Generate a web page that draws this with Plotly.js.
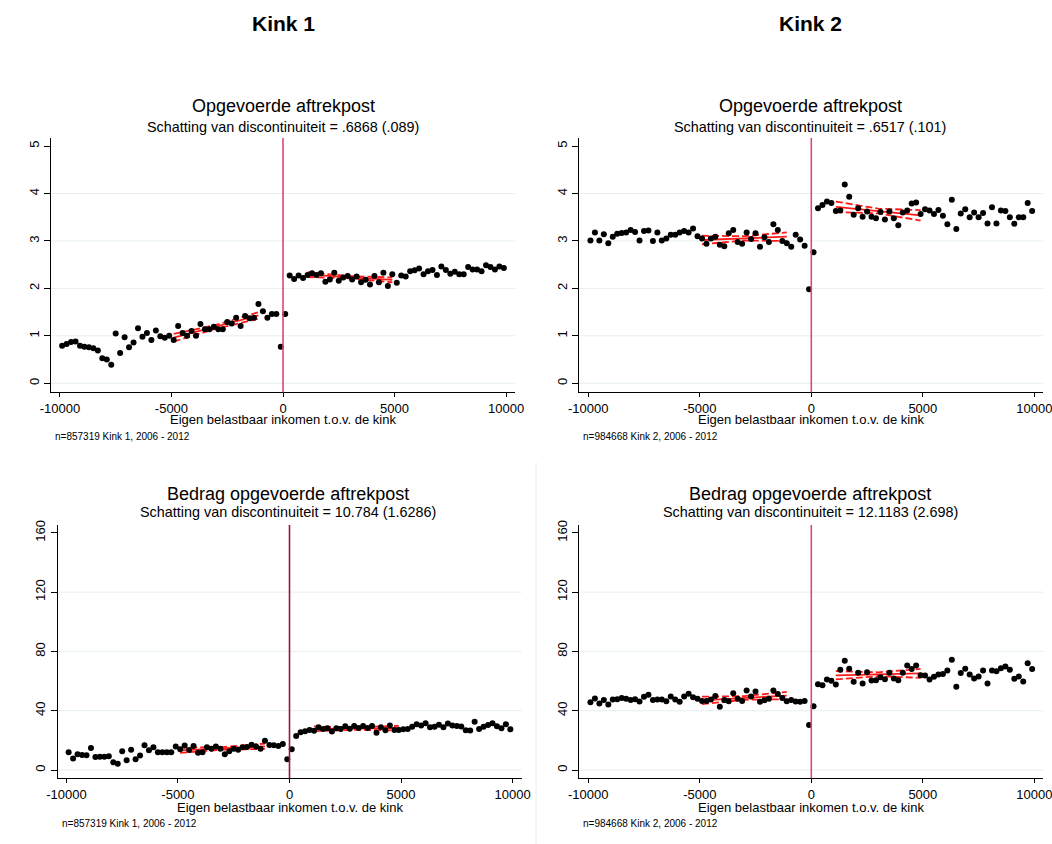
<!DOCTYPE html>
<html>
<head>
<meta charset="utf-8">
<script src="https://cdn.plot.ly/plotly-3.0.1.min.js"></script>
<style>html,body{margin:0;padding:0;background:#fff;}#chart{width:1052px;height:844px;}</style>
</head>
<body>
<div id="chart"></div>
<script>
// ---------- DATA ----------
const binX = [-9900,-9700,-9500,-9300,-9100,-8900,-8700,-8500,-8300,-8100,
  -7900,-7700,-7500,-7300,-7100,-6900,-6700,-6500,-6300,-6100,
  -5900,-5700,-5500,-5300,-5100,-4900,-4700,-4500,-4300,-4100,
  -3900,-3700,-3500,-3300,-3100,-2900,-2700,-2500,-2300,-2100,
  -1900,-1700,-1500,-1300,-1100,-900,-700,-500,-300,-100,
  100,300,500,700,900,1100,1300,1500,1700,1900,
  2100,2300,2500,2700,2900,3100,3300,3500,3700,3900,
  4100,4300,4500,4700,4900,5100,5300,5500,5700,5900,
  6100,6300,6500,6700,6900,7100,7300,7500,7700,7900,
  8100,8300,8500,8700,8900,9100,9300,9500,9700,9900];

// Kink 1: share with deduction
const k1Share = [0.79,0.83,0.87,0.88,0.79,0.77,0.76,0.74,0.69,0.53,
  0.50,0.39,1.05,0.64,0.97,0.76,0.86,1.16,0.98,1.06,
  0.91,1.11,0.99,0.96,1.00,0.91,1.21,1.06,1.00,1.10,
  1.00,1.25,1.14,1.14,1.19,1.14,1.14,1.29,1.26,1.38,
  1.21,1.42,1.37,1.38,1.67,1.52,1.38,1.46,1.46,0.77,
  1.46,2.27,2.20,2.27,2.22,2.28,2.32,2.28,2.32,2.14,
  2.19,2.33,2.16,2.23,2.26,2.19,2.25,2.13,2.18,2.08,
  2.26,2.13,2.33,2.05,2.30,2.12,2.27,2.25,2.36,2.38,
  2.42,2.30,2.36,2.39,2.28,2.46,2.39,2.31,2.35,2.30,
  2.30,2.45,2.40,2.40,2.36,2.49,2.45,2.40,2.46,2.43];

// Kink 2: share with deduction
const k2Share = [3.01,3.18,3.01,3.14,2.95,3.09,3.15,3.17,3.18,3.23,
  3.19,3.01,3.21,3.22,3.00,3.18,3.01,3.05,3.13,3.13,
  3.18,3.21,3.18,3.26,3.10,3.05,2.94,3.05,3.09,2.92,
  2.89,3.16,3.23,2.98,2.94,3.18,3.04,3.16,2.88,3.08,
  2.98,3.35,3.23,3.00,2.95,2.88,3.13,3.03,2.90,1.98,
  2.76,3.69,3.76,3.83,3.80,3.63,3.64,4.19,3.93,3.55,
  3.69,3.51,3.62,3.51,3.48,3.61,3.45,3.62,3.48,3.33,
  3.60,3.64,3.79,3.81,3.57,3.67,3.64,3.57,3.65,3.53,
  3.35,3.87,3.25,3.58,3.67,3.50,3.60,3.50,3.59,3.37,
  3.71,3.37,3.64,3.63,3.50,3.36,3.50,3.50,3.80,3.63];

// Kink 1: amount
const k1Amount = [11.9,7.7,10.6,10.1,9.9,14.9,8.8,9.0,9.0,9.2,
  5.2,4.3,12.6,6.5,13.7,7.2,9.7,16.7,13.3,15.3,
  11.9,11.9,11.9,11.9,15.8,14.0,16.5,13.5,16.2,11.7,
  11.9,15.3,14.4,15.8,14.4,10.6,12.6,14.4,13.7,15.3,
  15.5,17.1,15.8,14.4,19.8,16.9,16.7,16.2,17.6,7.2,
  14.0,23.0,25.5,26.1,27.0,26.4,28.8,27.7,28.2,25.9,
  28.2,27.7,29.5,27.9,29.7,28.4,29.7,28.4,29.7,25.2,
  28.8,26.8,30.0,27.0,27.0,27.5,27.7,29.1,30.9,30.0,
  31.5,28.8,29.1,30.6,28.8,31.3,30.0,29.7,29.3,26.8,
  26.6,32.5,27.7,29.1,30.4,31.5,29.5,28.2,30.9,27.5];

// Kink 2: amount
const k2Amount = [45.7,48.2,44.8,47.3,44.2,47.5,47.8,48.5,48.0,47.3,
  47.8,46.2,49.4,50.7,47.3,47.5,47.5,46.4,49.6,47.5,
  46.0,49.6,51.4,49.1,48.0,46.6,46.6,47.5,50.0,42.6,
  47.3,46.4,51.8,48.0,46.6,53.6,49.6,53.0,46.0,47.1,
  48.0,53.6,51.2,48.5,46.4,47.3,46.2,46.0,46.6,30.4,
  43.0,57.9,57.2,61.1,60.2,57.7,67.6,73.7,68.3,59.5,
  65.6,58.4,66.0,60.4,60.6,62.6,61.3,65.6,61.7,60.6,
  65.6,70.5,68.1,70.5,64.0,63.8,61.1,62.9,64.5,64.7,
  67.2,74.4,56.1,65.4,68.3,64.5,61.7,63.1,67.2,58.4,
  67.2,66.7,68.7,69.9,67.6,61.5,63.1,59.7,72.1,68.1];

// local linear fits with confidence bands
const fitLeftX  = [-4900, -3000, -1100];
const fitRightX = [1100, 3000, 4900];

const k1ShareFitL = [0.96, 1.19, 1.43], k1ShareLoL = [0.88, 1.15, 1.36], k1ShareHiL = [1.04, 1.23, 1.50];
const k1ShareFitR = [2.29, 2.235, 2.18], k1ShareLoR = [2.24, 2.21, 2.13], k1ShareHiR = [2.34, 2.26, 2.23];
const k2ShareFitL = [3.02, 3.055, 3.09], k2ShareLoL = [2.93, 3.01, 3.00], k2ShareHiL = [3.11, 3.10, 3.18];
const k2ShareFitR = [3.72, 3.63, 3.54], k2ShareLoR = [3.61, 3.58, 3.43], k2ShareHiR = [3.83, 3.68, 3.65];
const k1AmtFitL = [13.3, 14.6, 16.0], k1AmtLoL = [11.5, 13.7, 14.2], k1AmtHiL = [15.1, 15.5, 17.8];
const k1AmtFitR = [27.8, 28.0, 28.2], k1AmtLoR = [26.2, 27.2, 26.6], k1AmtHiR = [29.4, 28.8, 29.8];
const k2AmtFitL = [47.0, 48.6, 50.2], k2AmtLoL = [44.5, 47.4, 47.7], k2AmtHiL = [49.5, 49.8, 52.7];
const k2AmtFitR = [63.9, 64.6, 65.2], k2AmtLoR = [61.1, 63.3, 62.2], k2AmtHiR = [66.7, 65.9, 68.2];

const xTickVals = [-10000, -5000, 0, 5000, 10000];
const xTickText = ['-10000', '-5000', '0', '5000', '10000'];
const shareTicks = [0, 1, 2, 3, 4, 5];
const shareGrid = [0, 1, 2, 3, 4];
const amtTicks = [0, 40, 80, 120, 160];
const amtGrid = [0, 40, 80, 120];

const headers = ['Kink 1', 'Kink 2'];
const panelTitles = ['Opgevoerde aftrekpost', 'Opgevoerde aftrekpost', 'Bedrag opgevoerde aftrekpost', 'Bedrag opgevoerde aftrekpost'];
const panelSubtitles = ['Schatting van discontinuiteit = .6868 (.089)', 'Schatting van discontinuiteit = .6517 (.101)',
  'Schatting van discontinuiteit = 10.784 (1.6286)', 'Schatting van discontinuiteit = 12.1183 (2.698)'];
const xTitle = 'Eigen belastbaar inkomen t.o.v. de kink';
const notes = ['n=857319 Kink 1, 2006 - 2012', 'n=984668 Kink 2, 2006 - 2012', 'n=857319 Kink 1, 2006 - 2012', 'n=984668 Kink 2, 2006 - 2012'];

// ---------- LAYOUT GEOMETRY ----------
const W = 1052, H = 844;
const FONT = 'Liberation Sans, Arial, sans-serif';
const px = v => v / W;
const py = v => 1 - v / H;

const panels = [
  {ax: '', y: k1Share, fits: [[fitLeftX, k1ShareFitL, k1ShareLoL, k1ShareHiL], [fitRightX, k1ShareFitR, k1ShareLoR, k1ShareHiR]],
   xd: [51, 515], yd: [138, 392.3], yr: [-0.19, 5.17], ticks: shareTicks, grid: shareGrid, vcol: '#d84a6e',
   cx: 283, titleY: 106, subY: 127, xtY: 420, note: [53, 436]},
  {ax: '2', y: k2Share, fits: [[fitLeftX, k2ShareFitL, k2ShareLoL, k2ShareHiL], [fitRightX, k2ShareFitR, k2ShareLoR, k2ShareHiR]],
   xd: [579.3, 1043.3], yd: [138, 392.3], yr: [-0.19, 5.17], ticks: shareTicks, grid: shareGrid, vcol: '#d84a6e',
   cx: 810, titleY: 106, subY: 127, xtY: 420, note: [581, 436]},
  {ax: '3', y: k1Amount, fits: [[fitLeftX, k1AmtFitL, k1AmtLoL, k1AmtHiL], [fitRightX, k1AmtFitR, k1AmtLoR, k1AmtHiR]],
   xd: [57.5, 521.5], yd: [525, 778.3], yr: [-5.6, 165.3], ticks: amtTicks, grid: amtGrid, vcol: '#9e1438',
   cx: 288, titleY: 494, subY: 512, xtY: 807, note: [60, 823]},
  {ax: '4', y: k2Amount, fits: [[fitLeftX, k2AmtFitL, k2AmtLoL, k2AmtHiL], [fitRightX, k2AmtFitR, k2AmtLoR, k2AmtHiR]],
   xd: [579.3, 1043.3], yd: [525, 778.3], yr: [-5.6, 165.3], ticks: amtTicks, grid: amtGrid, vcol: '#d84a6e',
   cx: 810, titleY: 494, subY: 512, xtY: 807, note: [581, 823]}
];

const traces = [];
const shapes = [];
const annotations = [];
const layout = {
  width: W, height: H, margin: {l: 0, r: 0, t: 0, b: 0},
  paper_bgcolor: '#ffffff', plot_bgcolor: 'rgba(0,0,0,0)',
  showlegend: false, font: {family: FONT, color: '#000'},
  shapes: shapes, annotations: annotations
};

panels.forEach((p, i) => {
  const xa = 'x' + p.ax, ya = 'y' + p.ax;
  // gridlines
  p.grid.forEach(g => shapes.push({type: 'line', layer: 'below', xref: xa + ' domain', x0: 0, x1: 1, yref: ya, y0: g, y1: g,
    line: {color: '#e6eff1', width: 1}}));
  // vertical line at kink
  shapes.push({type: 'line', layer: 'above', xref: xa, x0: 0, x1: 0, yref: ya + ' domain', y0: 0, y1: 1,
    line: {color: p.vcol, width: 1.6}});
  // fits
  p.fits.forEach(f => {
    traces.push({x: f[0], y: f[2], xaxis: xa, yaxis: ya, mode: 'lines', line: {color: '#ff1a1a', width: 1.8, dash: '7px,3px'}, hoverinfo: 'skip'});
    traces.push({x: f[0], y: f[3], xaxis: xa, yaxis: ya, mode: 'lines', line: {color: '#ff1a1a', width: 1.8, dash: '7px,3px'}, hoverinfo: 'skip'});
    traces.push({x: f[0], y: f[1], xaxis: xa, yaxis: ya, mode: 'lines', line: {color: '#ff1a1a', width: 1.8}, hoverinfo: 'skip'});
  });
  // dots
  traces.push({x: binX, y: p.y, xaxis: xa, yaxis: ya, mode: 'markers', marker: {color: '#000', size: 6}, cliponaxis: false});

  layout['xaxis' + p.ax] = {
    domain: [px(p.xd[0]), px(p.xd[1])], anchor: ya, range: [-10400, 10400],
    tickvals: xTickVals, ticktext: xTickText, ticks: 'outside', ticklen: 4, tickcolor: '#000', tickwidth: 1,
    showline: true, linecolor: '#000', linewidth: 1, showgrid: false, zeroline: false,
    ticklabeloverflow: 'allow',
    tickfont: {family: FONT, size: 13, color: '#000'}, fixedrange: true
  };
  layout['yaxis' + p.ax] = {
    domain: [py(p.yd[1]), py(p.yd[0])], anchor: xa, range: p.yr,
    tickvals: p.ticks, ticks: 'outside', ticklen: 6, tickcolor: '#000', tickwidth: 1, tickangle: -90,
    showline: true, linecolor: '#000', linewidth: 1, showgrid: false, zeroline: false,
    tickfont: {family: FONT, size: 13, color: '#000'}, fixedrange: true
  };

  annotations.push({xref: 'paper', yref: 'paper', x: px(p.cx), y: py(p.titleY), text: panelTitles[i], showarrow: false,
    xanchor: 'center', yanchor: 'middle', font: {family: FONT, size: 18, color: '#000'}});
  annotations.push({xref: 'paper', yref: 'paper', x: px(p.cx), y: py(p.subY), text: panelSubtitles[i], showarrow: false,
    xanchor: 'center', yanchor: 'middle', font: {family: FONT, size: 14.4, color: '#000'}});
  annotations.push({xref: 'paper', yref: 'paper', x: px((p.xd[0] + p.xd[1]) / 2), y: py(p.xtY), text: xTitle, showarrow: false,
    xanchor: 'center', yanchor: 'middle', font: {family: FONT, size: 13, color: '#000'}});
  annotations.push({xref: 'paper', yref: 'paper', x: px(p.note[0]), y: py(p.note[1]), text: notes[i], showarrow: false,
    xanchor: 'left', yanchor: 'middle', font: {family: FONT, size: 10, color: '#000'}});
});

// column headers
annotations.push({xref: 'paper', yref: 'paper', x: px(283), y: py(24), text: '<b>' + headers[0] + '</b>', showarrow: false,
  xanchor: 'center', yanchor: 'middle', font: {family: FONT, size: 21, color: '#000'}});
annotations.push({xref: 'paper', yref: 'paper', x: px(810), y: py(24), text: '<b>' + headers[1] + '</b>', showarrow: false,
  xanchor: 'center', yanchor: 'middle', font: {family: FONT, size: 21, color: '#000'}});

// faint separator between bottom panels
shapes.push({type: 'line', layer: 'below', xref: 'paper', yref: 'paper', x0: px(536), x1: px(536), y0: 0, y1: py(462),
  line: {color: '#eaf0f2', width: 1}});

Plotly.newPlot('chart', traces, layout, {displayModeBar: false, staticPlot: true});
</script>
</body>
</html>
